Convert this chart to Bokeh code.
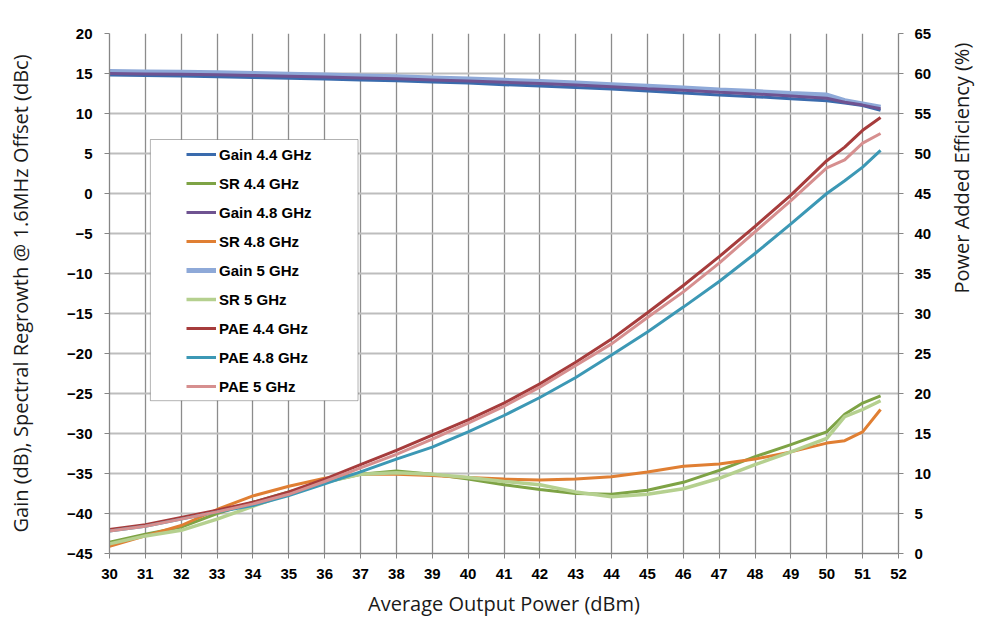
import math
from bokeh.plotting import figure
from bokeh.models import Range1d, LinearAxis, FixedTicker, Legend, LegendItem, BoxAnnotation
from bokeh.embed import file_html
from bokeh.resources import INLINE

# ---- data ----
pout_dbm = [30, 31, 32, 33, 34, 35, 36, 37, 38, 39, 40, 41, 42, 43, 44, 45, 46, 47, 48, 49, 50, 50.5, 51, 51.5]

gain_44 = [14.8, 14.75, 14.7, 14.6, 14.5, 14.4, 14.3, 14.2, 14.1, 13.95, 13.8, 13.6, 13.45, 13.25, 13.05, 12.8, 12.55, 12.3, 12.1, 11.85, 11.6, 11.3, 11.0, 10.4]
gain_48 = [15.0, 14.95, 14.9, 14.85, 14.75, 14.65, 14.55, 14.45, 14.35, 14.2, 14.05, 13.9, 13.75, 13.55, 13.35, 13.1, 12.9, 12.65, 12.45, 12.2, 11.9, 11.4, 11.05, 10.6]
gain_50 = [15.25, 15.2, 15.15, 15.1, 15.0, 14.9, 14.8, 14.7, 14.6, 14.45, 14.3, 14.15, 14.0, 13.8, 13.6, 13.4, 13.2, 12.95, 12.75, 12.5, 12.3, 11.6, 11.2, 10.8]

sr_44 = [-43.6, -42.6, -41.7, -40.0, -38.6, -37.3, -36.1, -35.1, -34.7, -35.1, -35.7, -36.4, -37.0, -37.5, -37.6, -37.1, -36.1, -34.6, -32.9, -31.4, -29.8, -27.6, -26.2, -25.3]
sr_48 = [-44.1, -42.8, -41.5, -39.5, -37.8, -36.6, -35.6, -35.1, -35.1, -35.25, -35.5, -35.7, -35.8, -35.7, -35.4, -34.8, -34.1, -33.8, -33.2, -32.3, -31.2, -30.9, -29.8, -27.0]
sr_50 = [-43.8, -42.8, -42.1, -40.7, -39.1, -37.5, -36.1, -35.1, -34.9, -35.1, -35.5, -36.0, -36.4, -37.3, -37.9, -37.6, -36.9, -35.6, -33.9, -32.3, -30.6, -27.9, -27.0, -25.9]

pae_44 = [3.0, 3.6, 4.5, 5.4, 6.4, 7.7, 9.3, 11.1, 12.9, 14.8, 16.7, 18.8, 21.2, 23.9, 26.8, 30.1, 33.5, 37.1, 40.9, 44.8, 49.1, 50.8, 52.9, 54.5]
pae_48 = [2.8, 3.4, 4.3, 5.2, 6.0, 7.25, 8.7, 10.2, 11.8, 13.3, 15.2, 17.25, 19.5, 22.0, 24.8, 27.7, 30.8, 34.0, 37.5, 41.2, 45.0, 46.6, 48.3, 50.4]
pae_50 = [2.8, 3.4, 4.3, 5.2, 6.2, 7.4, 9.0, 10.7, 12.4, 14.3, 16.3, 18.4, 20.8, 23.5, 26.2, 29.5, 32.7, 36.3, 40.2, 44.1, 48.2, 49.2, 51.3, 52.5]

x_ticks = list(range(30, 53))
left_ticks = list(range(-45, 21, 5))
right_ticks = list(range(0, 66, 5))

series_names = ["Gain 4.4 GHz", "SR 4.4 GHz", "Gain 4.8 GHz", "SR 4.8 GHz", "Gain 5 GHz",
                "SR 5 GHz", "PAE 4.4 GHz", "PAE 4.8 GHz", "PAE 5 GHz"]

# ---- figure ----
p = figure(width=991, height=620, output_backend="svg", toolbar_location=None,
           x_range=Range1d(30, 52), y_range=Range1d(-45, 20),
           min_border_left=109, min_border_right=92, min_border_top=33, min_border_bottom=67)
p.extra_y_ranges = {"pae": Range1d(0, 65)}
p.outline_line_color = None
p.background_fill_color = "white"
p.border_fill_color = "white"

AX = "#868686"
TICK_FONT = "Liberation Sans"
LABEL_FONT = "Open Sans"

def style_axis(ax):
    ax.axis_line_color = AX
    ax.axis_line_width = 1.3
    ax.major_tick_line_color = AX
    ax.major_tick_out = 5
    ax.major_tick_in = 0
    ax.minor_tick_line_color = None
    ax.major_label_text_font = TICK_FONT
    ax.major_label_text_font_style = "bold"
    ax.major_label_text_font_size = "15px"
    ax.major_label_text_color = "black"
    ax.axis_label_text_font = LABEL_FONT
    ax.axis_label_text_font_style = "normal"
    ax.axis_label_text_font_size = "20px"
    ax.axis_label_text_color = "#1a1a1a"

xa = p.xaxis[0]
ya = p.yaxis[0]
xa.ticker = FixedTicker(ticks=x_ticks)
ya.ticker = FixedTicker(ticks=left_ticks)
style_axis(xa)
style_axis(ya)
xa.axis_label = "Average Output Power (dBm)"
xa.major_label_standoff = 10
xa.axis_label_standoff = 8
ya.axis_label = "Gain (dB), Spectral Regrowth @ 1.6MHz Offset (dBc)"
ya.major_label_standoff = 12
ya.axis_label_standoff = 30

ra = LinearAxis(y_range_name="pae", ticker=FixedTicker(ticks=right_ticks))
style_axis(ra)
ra.major_label_standoff = 11
ra.axis_label = "Power Added Efficiency (%)"
ra.axis_label_standoff = 27
try:
    ra.axis_label_orientation = math.pi / 2
except Exception:
    pass
p.add_layout(ra, "right")

p.xgrid.ticker = FixedTicker(ticks=x_ticks)
p.xgrid.grid_line_color = "#8C8C8C"
p.xgrid.grid_line_width = 1.3
p.ygrid.ticker = FixedTicker(ticks=left_ticks[:-1])
p.ygrid.grid_line_color = "#BDBDBD"
p.ygrid.grid_line_width = 2

# ---- lines ----
r_g50 = p.line(pout_dbm, gain_50, line_color="#8EA9D8", line_width=5)
r_g44 = p.line(pout_dbm, gain_44, line_color="#3A6BAD", line_width=3)
r_g48 = p.line(pout_dbm, gain_48, line_color="#6F5391", line_width=3)
r_s44 = p.line(pout_dbm, sr_44, line_color="#7EA345", line_width=3)
r_s48 = p.line(pout_dbm, sr_48, line_color="#E07F33", line_width=3)
r_s50 = p.line(pout_dbm, sr_50, line_color="#B5D08F", line_width=3.5)
r_p44 = p.line(pout_dbm, pae_44, line_color="#A63C3C", line_width=3, y_range_name="pae")
r_p48 = p.line(pout_dbm, pae_48, line_color="#3C98B5", line_width=3, y_range_name="pae")
r_p50 = p.line(pout_dbm, pae_50, line_color="#D68F8F", line_width=3, y_range_name="pae")

# ---- legend ----
box = BoxAnnotation(left=31.14, right=36.93, top=6.75, bottom=-25.9,
                    fill_color="white", fill_alpha=1, line_color="black", line_width=1)
p.add_layout(box)

rends = [r_g44, r_s44, r_g48, r_s48, r_g50, r_s50, r_p44, r_p48, r_p50]
legend = Legend(items=[LegendItem(label=n, renderers=[r]) for n, r in zip(series_names, rends)],
                location=(69, 149))
legend.background_fill_alpha = 0
legend.border_line_alpha = 0
legend.label_text_font = TICK_FONT
legend.label_text_font_style = "bold"
legend.label_text_font_size = "15px"
legend.label_text_color = "black"
legend.glyph_width = 30
legend.glyph_height = 20
legend.label_height = 20
legend.spacing = 9
legend.padding = 8
legend.label_standoff = 3
legend.margin = 0
p.add_layout(legend)

open("out.html", "w").write(file_html(p, INLINE))
